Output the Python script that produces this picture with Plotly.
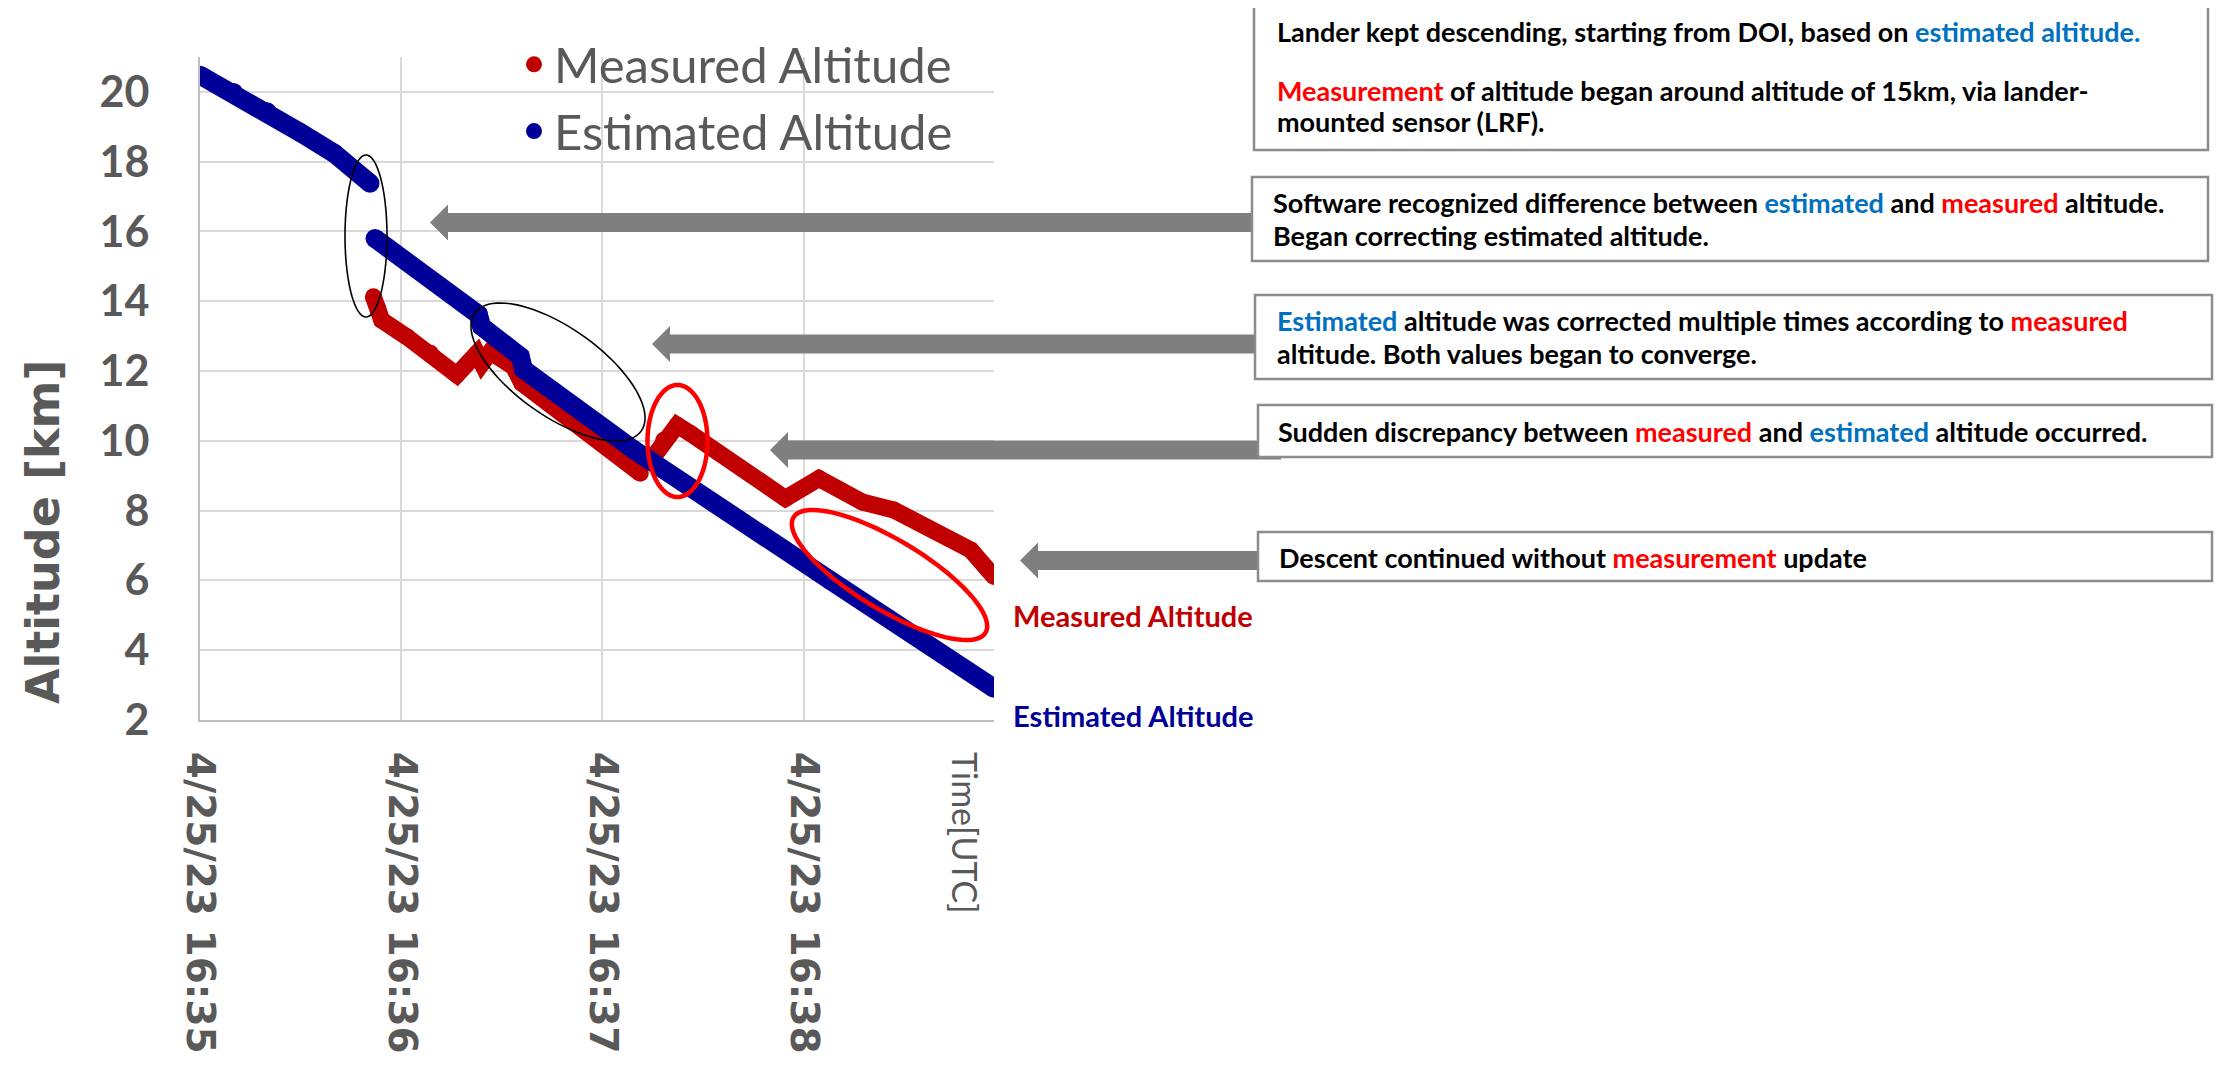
import math
import pandas as pd
import plotly.graph_objects as go

# ---------------- data (seconds after 2023-04-25 16:35:00 UTC, altitude km) ----------------
est_t = [0, 10, 20, 30, 40, 50.7, None, 52.2, 83.0, 84.0, 95.5, 96.5, 129.3, 188.0, 236.8]
est_alt = [20.48, 19.98, 19.43, 18.83, 18.24, 17.38, None, 15.80, 13.62, 13.28, 12.42, 12.05, 9.75, 6.0, 2.91]

meas_t = [51.7, 53.0, 54.2, 61.7, 68.7, 76.6, 82.6, 84.1, 86.6, 93.5, 96.0, 121.4, 131.3, None,
          134.5, 138.3, 142.3, 146.3, 174.6, 184.6, 197.5, 206.9, 229.9, 236.8]
meas_alt = [14.13, 13.80, 13.46, 12.98, 12.51, 11.89, 12.51, 12.22, 12.55, 12.12, 11.65, 9.83, 9.07, None,
            9.45, 10.02, 10.45, 10.21, 8.35, 8.92, 8.25, 8.02, 6.87, 6.11]

x_tick_secs = [0, 60, 120, 180]
x_tick_text = ["4/25/23 16:35", "4/25/23 16:36", "4/25/23 16:37", "4/25/23 16:38"]
y_ticks = [2, 4, 6, 8, 10, 12, 14, 16, 18, 20]
x_end_sec = 236.8
y_range = [2, 21]

base = pd.Timestamp("2023-04-25 16:35:00")
def to_time(secs):
    return [None if s is None else base + pd.Timedelta(seconds=s) for s in secs]

BLUE = "#000099"
RED = "#C00000"
GRAY = "#595959"

# ---------------- layout geometry (page pixels; page body has an 8px margin) ----------------
PAGE_W, PAGE_H = 2224, 1070
O = 8
W, H = PAGE_W - 2 * O, PAGE_H - 2 * O
L, R, T, B = 200, 994, 57, 720          # plot area in page pixels
def px(x):
    return (x - L) / (R - L)
def py(y):
    return (B - y) / (B - T)

fig = go.Figure()

fig.add_trace(go.Scatter(x=to_time(meas_t), y=meas_alt, mode="lines+markers",
                         line=dict(color=RED, width=17), marker=dict(color=RED, size=17),
                         connectgaps=False, showlegend=False, hoverinfo="skip"))
fig.add_trace(go.Scatter(x=to_time(est_t), y=est_alt, mode="lines+markers",
                         line=dict(color=BLUE, width=19), marker=dict(color=BLUE, size=19),
                         connectgaps=False, showlegend=False, hoverinfo="skip"))
# legend entries
fig.add_trace(go.Scatter(x=[None], y=[None], mode="markers", name="Measured Altitude",
                         marker=dict(color=RED, size=16)))
fig.add_trace(go.Scatter(x=[None], y=[None], mode="markers", name="Estimated Altitude",
                         marker=dict(color=BLUE, size=16)))

shapes = []
annotations = []

# ---------------- ellipses ----------------
def ellipse_path(cx, cy, a, b, theta_deg, n=90):
    th = math.radians(theta_deg)
    pts = []
    for i in range(n):
        t = 2 * math.pi * i / n
        x = cx + a * math.cos(th) * math.cos(t) - b * math.sin(th) * math.sin(t)
        y = cy + a * math.sin(th) * math.cos(t) + b * math.cos(th) * math.sin(t)
        pts.append((px(x), py(y)))
    return "M " + " L ".join(f"{x:.5f},{y:.5f}" for x, y in pts) + " Z"

ellipses = [
    (366, 236, 21, 81, 0, "black", 1.6),
    (558, 372, 102, 44, 35.3, "black", 1.6),
    (677.5, 441, 30, 56, 0, "#FF0000", 4.5),
    (889.5, 575, 112, 35, 31, "#FF0000", 4.5),
]
for cx, cy, a, b, th, col, w in ellipses:
    shapes.append(dict(type="path", xref="paper", yref="paper", path=ellipse_path(cx, cy, a, b, th),
                       line=dict(color=col, width=w), fillcolor="rgba(0,0,0,0)", layer="above"))

# ---------------- arrows (tip x, center y, right end x) ----------------
def arrow_path(xt, yc, xr, head_len=18, head_h=18, bar_h=9.5):
    pts = [(xt, yc), (xt + head_len, yc - head_h), (xt + head_len, yc - bar_h), (xr, yc - bar_h),
           (xr, yc + bar_h), (xt + head_len, yc + bar_h), (xt + head_len, yc + head_h)]
    return "M " + " L ".join(f"{px(x):.5f},{py(y):.5f}" for x, y in pts) + " Z"

arrows = [(430, 222.5, 1255), (652, 344, 1255), (770, 450, 1281), (1020, 560.5, 1258)]
for xt, yc, xr in arrows:
    shapes.append(dict(type="path", xref="paper", yref="paper", path=arrow_path(xt, yc, xr),
                       line=dict(width=0), fillcolor="#7F7F7F", layer="above"))

# ---------------- text boxes ----------------
boxes = [(1254, 6, 2208, 150), (1252, 177, 2208, 261), (1255, 295, 2212, 379),
         (1258, 405, 2212, 457), (1258, 532, 2212, 581)]
for x0, y0, x1, y1 in boxes:
    shapes.append(dict(type="rect", xref="paper", yref="paper", x0=px(x0), x1=px(x1), y0=py(y1), y1=py(y0),
                       line=dict(color="#8C8C8C", width=2.5), fillcolor="white", layer="above"))

def c(text, col):
    return f'<span style="color:{col}">{text}</span>'
BL = "#0070C0"
RD = "#FF0000"
box_lines = [
    (1275, 32, "Lander kept descending, starting from DOI, based on " + c("estimated altitude.", BL)),
    (1275, 90, c("Measurement", RD) + " of altitude began around altitude of 15km, via lander-"),
    (1275, 122, "mounted sensor (LRF)."),
    (1271, 202, "Software recognized difference between " + c("estimated", BL) + " and " + c("measured", RD) + " altitude."),
    (1271, 235, "Began correcting estimated altitude."),
    (1275, 320, c("Estimated", BL) + " altitude was corrected multiple times according to " + c("measured", RD)),
    (1275, 353, "altitude. Both values began to converge."),
    (1276, 431, "Sudden discrepancy between " + c("measured", RD) + " and " + c("estimated", BL) + " altitude occurred."),
    (1277, 557, "Descent continued without " + c("measurement", RD) + " update"),
]
for x, y, t in box_lines:
    annotations.append(dict(xref="paper", yref="paper", x=px(x), y=py(y), xanchor="left", yanchor="middle",
                            text="<b>" + t + "</b>", showarrow=False,
                            font=dict(family="Lato", size=27, color="black")))

# ---------------- series labels, axis titles ----------------
annotations.append(dict(xref="paper", yref="paper", x=px(1011), y=py(615), xanchor="left", yanchor="middle",
                        text="<b>Measured Altitude</b>", showarrow=False,
                        font=dict(family="Lato", size=29, color=RED)))
annotations.append(dict(xref="paper", yref="paper", x=px(1011), y=py(715), xanchor="left", yanchor="middle",
                        text="<b>Estimated Altitude</b>", showarrow=False,
                        font=dict(family="Lato", size=29, color=BLUE)))
annotations.append(dict(xref="paper", yref="paper", x=px(43), y=py(532), xanchor="center", yanchor="middle",
                        text="<b>Altitude [km]</b>", textangle=-90, showarrow=False,
                        font=dict(family="DejaVu Sans", size=46, color=GRAY)))
annotations.append(dict(xref="paper", yref="paper", x=px(966), y=py(833), xanchor="center", yanchor="middle",
                        text="Time[UTC]", textangle=90, showarrow=False,
                        font=dict(family="Lato", size=34, color=GRAY)))

fig.update_layout(
    width=W, height=H, autosize=False,
    margin=dict(l=L - O, r=(W + O) - R, t=T - O, b=(H + O) - B, pad=0, autoexpand=False),
    paper_bgcolor="white", plot_bgcolor="white",
    shapes=shapes, annotations=annotations,
    legend=dict(x=px(514), y=py(26), xanchor="left", yanchor="top",
                font=dict(family="Lato", size=49, color=GRAY), bgcolor="rgba(0,0,0,0)",
                tracegroupgap=0),
)
fig.update_xaxes(type="date", range=[base, base + pd.Timedelta(seconds=x_end_sec)],
                 tickmode="array", tickvals=to_time(x_tick_secs), ticktext=x_tick_text,
                 tickangle=90, tickfont=dict(family="DejaVu Sans", size=39, color=GRAY, weight="bold"),
                 showgrid=True, gridcolor="#D9D9D9", gridwidth=2, automargin=False,
                 showline=True, linecolor="#BFBFBF", linewidth=2, zeroline=False, ticks="",
                 ticklabelstandoff=22)
fig.update_yaxes(range=y_range, tickmode="array", tickvals=y_ticks,
                 tickfont=dict(family="Lato", size=43, color=GRAY, weight="bold"),
                 showgrid=True, gridcolor="#D9D9D9", gridwidth=2, automargin=False,
                 showline=True, linecolor="#BFBFBF", linewidth=2, zeroline=False, ticks="",
                 ticklabelstandoff=40)

fig.write_html("out.html")
